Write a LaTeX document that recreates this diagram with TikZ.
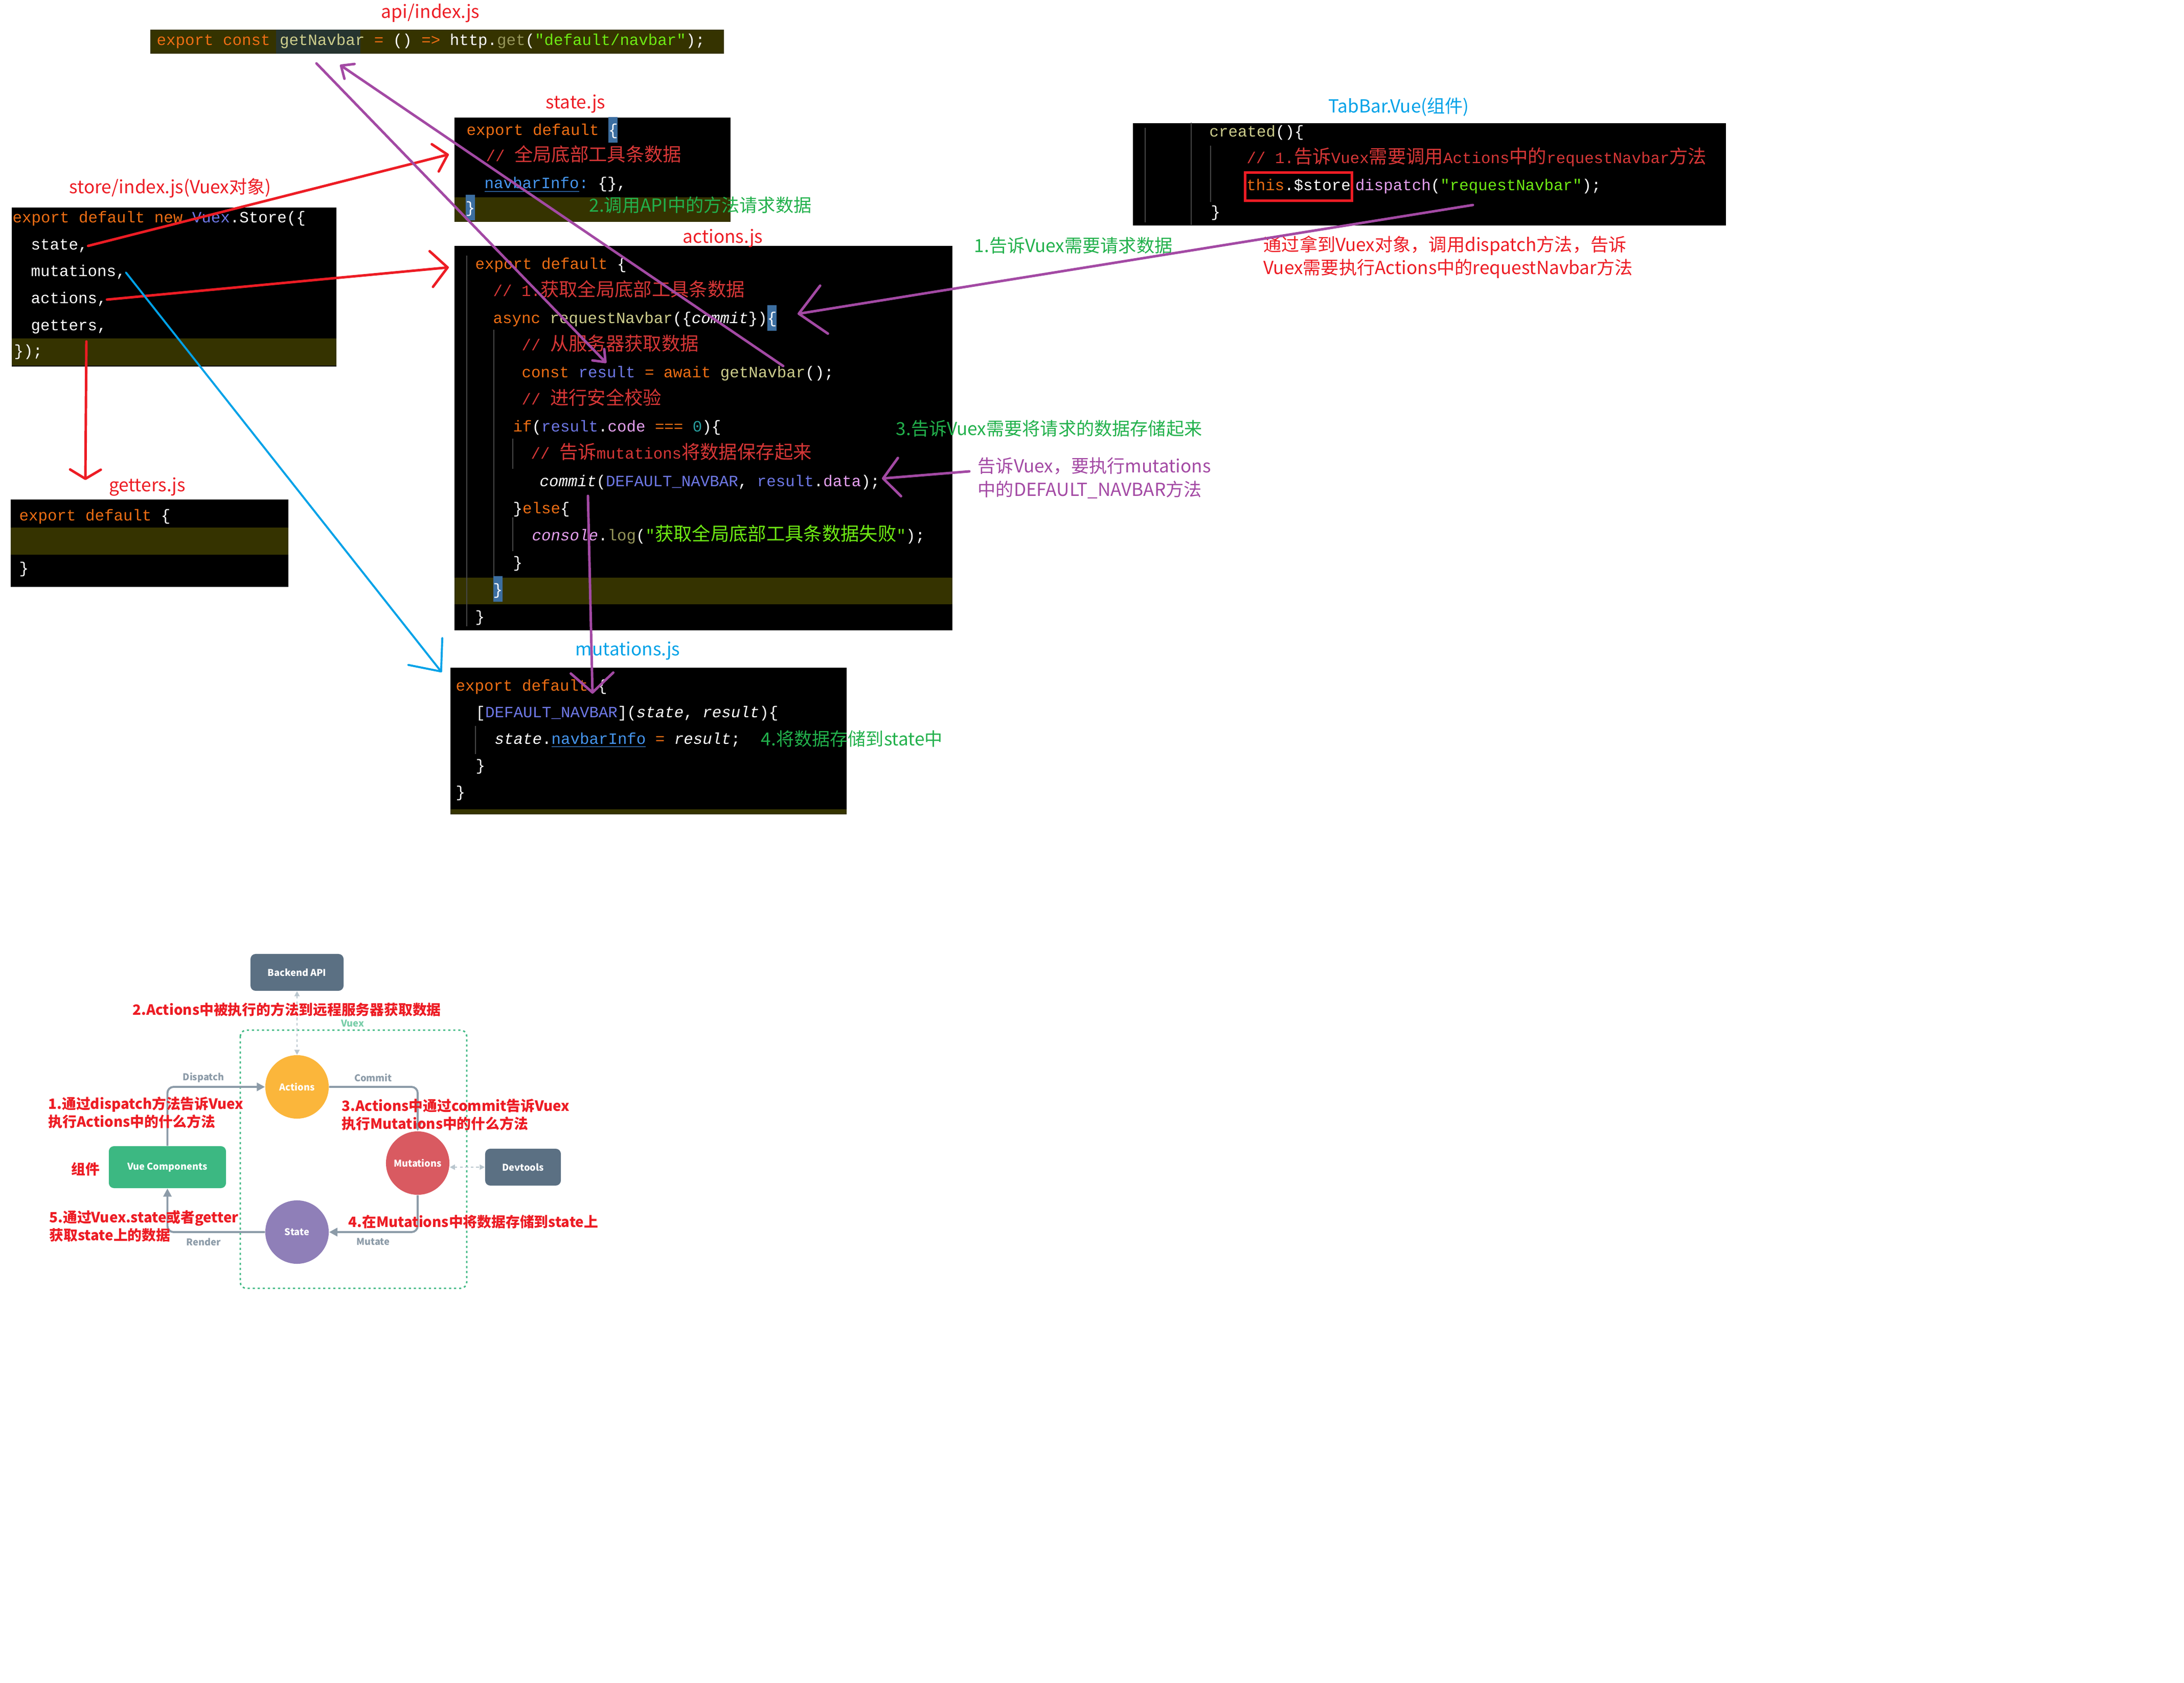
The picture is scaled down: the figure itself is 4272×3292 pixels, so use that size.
\documentclass[tikz,border=0pt]{standalone}
\usepackage{xcolor}
\usepackage{fontspec}
\setmainfont{Noto Sans CJK SC}
\setmonofont{Liberation Mono}
\newfontfamily\zhcode{Noto Sans CJK SC}[Scale=1.18]
\newcommand\zh[1]{{\zhcode #1}}
\newcommand\caretstrut{\rule[-0.14cm]{0pt}{0.5cm}}
\setlength{\fboxsep}{0pt}
\usetikzlibrary{positioning,arrows.meta}

\definecolor{kwOrange}{RGB}{238,110,20}
\definecolor{cmtRed}{RGB}{215,55,55}
\definecolor{strGreen}{RGB}{110,235,20}
\definecolor{fnKhaki}{RGB}{205,205,140}
\definecolor{getOlive}{RGB}{150,150,90}
\definecolor{propBlue}{RGB}{70,150,240}
\definecolor{varBlue}{RGB}{110,120,230}
\definecolor{pinkProp}{RGB}{230,160,240}
\definecolor{numTeal}{RGB}{40,160,160}
\definecolor{bandOlive}{RGB}{53,51,0}
\definecolor{getNavBg}{RGB}{38,52,48}
\definecolor{caretBlue}{RGB}{60,110,160}
\definecolor{guideGrey}{RGB}{70,70,70}
\definecolor{paintRed}{RGB}{237,28,36}
\definecolor{paintGreen}{RGB}{34,177,76}
\definecolor{paintPurple}{RGB}{163,73,164}
\definecolor{paintBlue}{RGB}{0,162,232}
\definecolor{vxGreen}{RGB}{60,184,130}
\definecolor{vxSlate}{RGB}{91,112,131}
\definecolor{vxOrange}{RGB}{251,182,59}
\definecolor{vxRed}{RGB}{217,90,97}
\definecolor{vxPurple}{RGB}{143,127,184}
\definecolor{vxGrey}{RGB}{140,155,168}
\definecolor{vxLight}{RGB}{185,198,206}

\begin{document}
\begin{tikzpicture}[
        x=0.01cm, y=-0.01cm,
        codebox/.style={rectangle, fill=black, inner sep=0, anchor=north west},
        band/.style={rectangle, fill=bandOlive, inner sep=0, anchor=north west},
        codeln/.style={anchor=west, inner sep=0, text height=0.22cm, text depth=0.06cm, text=white, font=\ttfamily\fontsize{8.76pt}{10pt}\selectfont},
        guide/.style={draw=guideGrey, line width=0.4pt},
        filename/.style={inner sep=0, font=\fontsize{10pt}{13pt}\selectfont},
        remark/.style={inner sep=0, anchor=west, align=left, font=\fontsize{10pt}{12.9pt}\selectfont},
        handdrawn/.style={line width=1.4pt, line cap=round, line join=round},
        vxbox/.style={rectangle, rounded corners=0.1cm, text=white, font=\bfseries\fontsize{5.2pt}{6pt}\selectfont},
        vxcircle/.style={circle, minimum size=1.24cm, inner sep=0, text=white, font=\bfseries\fontsize{5.2pt}{6pt}\selectfont},
        vxlabel/.style={inner sep=0, text=vxGrey, font=\bfseries\fontsize{5.2pt}{6pt}\selectfont},
        vxflow/.style={draw=vxGrey, line width=1.1pt, rounded corners=0.12cm, -{Triangle[length=0.16cm,width=0.16cm]}},
        vxdash/.style={draw=vxLight, line width=0.8pt, dash pattern=on 1.5pt off 1.5pt, {Triangle[length=0.1cm,width=0.1cm]}-{Triangle[length=0.1cm,width=0.1cm]}},
        vuexFrame/.style={draw=vxGreen, line width=0.8pt, dash pattern=on 1.2pt off 1.6pt, rounded corners=0.12cm},
        rednote/.style={inner sep=0, anchor=west, align=left, text=paintRed, font=\bfseries\fontsize{7.9pt}{9.95pt}\selectfont}
    ]
        \fill[white] (0,0) rectangle (4272,3292);
        \useasboundingbox (0,0) rectangle (4272,3292);

        % ========== API (top) ==========
        \node[band, minimum width=11.22cm, minimum height=0.47cm] (apiBar) at (293,57) {};
        \node[band, fill=getNavBg, minimum width=1.65cm, minimum height=0.47cm] (apiHl) at (539,57) {};
        \node[codeln] (apiCode) at (306,81) {\color{kwOrange}export const \color{fnKhaki}getNavbar \color{kwOrange}= \color{white}() \color{kwOrange}=> \color{white}http.\color{getOlive}get\color{white}(\color{strGreen}"default/navbar"\color{white});};
        \node[filename, text=paintRed] (apiTitle) at (842,26) {api/index.js};

        % ========== STORE / GETTERS (left) ==========
        \node[codebox, minimum width=6.35cm, minimum height=3.11cm] (storeBox) at (22,405) {};
        \node[band, minimum width=6.35cm, minimum height=0.53cm] (storeBand) at (22,661) {};
        \node[codeln] (storeL0) at (24,428) {\color{kwOrange}export default new \color{varBlue}Vuex\color{white}.Store(\{};
        \node[codeln] (storeL1) at (60,481) {state,};
        \node[codeln] (storeL2) at (60,533) {mutations,};
        \node[codeln] (storeL3) at (60,586) {actions,};
        \node[codeln] (storeL4) at (60,639) {getters,};
        \node[codeln] (storeL5) at (27,689) {\});};
        \node[filename, text=paintRed] (storeTitle) at (333,368) {store/index.js(Vuex对象)};

        \node[codebox, minimum width=5.43cm, minimum height=1.71cm] (gettersBox) at (20,976) {};
        \node[band, minimum width=5.43cm, minimum height=0.53cm] (gettersBand) at (20,1031) {};
        \node[codeln] (gettersL0) at (37,1010) {\color{kwOrange}export default \color{white}\{};
        \node[codeln] (gettersL2) at (37,1113) {\}};
        \node[filename, text=paintRed] (gettersTitle) at (288,952) {getters.js};

        % ========== STATE ==========
        \node[codebox, minimum width=5.40cm, minimum height=2.04cm] (stateBox) at (888,229) {};
        \node[band, minimum width=5.40cm, minimum height=0.48cm] (stateBand) at (888,385) {};
        \node[codeln] (stateL0) at (912,257) {\color{kwOrange}export default \colorbox{caretBlue}{\caretstrut\color{white}\{}};
        \node[codeln] (stateL1) at (950,308) {\color{cmtRed}// \zh{全局底部工具条数据}};
        \node[codeln] (stateL2) at (947,361) {\color{propBlue}\underline{navbarInfo}: \color{white}\{\},};
        \node[codeln] (stateL3) at (910,409) {\colorbox{caretBlue}{\caretstrut\color{white}\}}};
        \node[filename, text=paintRed] (stateTitle) at (1126,203) {state.js};

        % ========== ACTIONS ==========
        \node[codebox, minimum width=9.74cm, minimum height=7.52cm] (actionsBox) at (888,480) {};
        \node[band, minimum width=9.74cm, minimum height=0.52cm] (actionsBand) at (888,1129) {};
        \draw[guide] (913,500) -- (913,1225);
        \draw[guide] (966,645) -- (966,1130);
        \draw[guide] (1003,858) -- (1003,917);
        \draw[guide] (1003,1012) -- (1003,1078);
        \node[codeln] (actL0) at (929,519) {\color{kwOrange}export default \color{white}\{};
        \node[codeln] (actL1) at (964,572) {\color{cmtRed}// 1.\zh{获取全局底部工具条数据}};
        \node[codeln] (actL2) at (964,625) {\color{kwOrange}async \color{fnKhaki}requestNavbar\color{white}(\{{\itshape commit}\})\colorbox{caretBlue}{\caretstrut\color{white}\{}};
        \node[codeln] (actL3) at (1020,678) {\color{cmtRed}// \zh{从服务器获取数据}};
        \node[codeln] (actL4) at (1020,731) {\color{kwOrange}const \color{varBlue}result \color{kwOrange}= await \color{fnKhaki}getNavbar\color{white}();};
        \node[codeln] (actL5) at (1020,784) {\color{cmtRed}// \zh{进行安全校验}};
        \node[codeln] (actL6) at (1003,837) {\color{kwOrange}if\color{white}(\color{varBlue}result\color{white}.\color{pinkProp}code \color{kwOrange}=== \color{numTeal}0\color{white})\{};
        \node[codeln] (actL7) at (1038,890) {\color{cmtRed}// \zh{告诉}mutations\zh{将数据保存起来}};
        \node[codeln] (actL8) at (1055,943) {{\itshape commit}(\color{varBlue}DEFAULT\_NAVBAR\color{white}, \color{varBlue}result\color{white}.\color{pinkProp}data\color{white});};
        \node[codeln] (actL9) at (1003,996) {\}\color{kwOrange}else\color{white}\{};
        \node[codeln] (actL10) at (1040,1049) {{\itshape\color{pinkProp}console}.\color{getOlive}log\color{white}(\color{strGreen}"\zh{获取全局底部工具条数据失败}"\color{white});};
        \node[codeln] (actL11) at (1003,1102) {\}};
        \node[codeln] (actL12) at (964,1155) {\colorbox{caretBlue}{\caretstrut\color{white}\}}};
        \node[codeln] (actL13) at (929,1208) {\}};
        \node[filename, text=paintRed] (actionsTitle) at (1414,466) {actions.js};

        % ========== MUTATIONS ==========
        \node[codebox, minimum width=7.75cm, minimum height=2.87cm] (mutationsBox) at (880,1305) {};
        \node[band, minimum width=7.75cm, minimum height=0.1cm] (mutationsBand) at (880,1582) {};
        \draw[guide] (930,1420) -- (930,1475);
        \node[codeln] (mutL0) at (891,1343) {\color{kwOrange}export default \color{white}\{};
        \node[codeln] (mutL1) at (930,1395) {[\color{varBlue}DEFAULT\_NAVBAR\color{white}]({\itshape state}, {\itshape result})\{};
        \node[codeln] (mutL2) at (967,1447) {{\itshape state}.\color{propBlue}\underline{navbarInfo} \color{kwOrange}= \color{white}{\itshape result};};
        \node[codeln] (mutL3) at (930,1499) {\}};
        \node[codeln] (mutL4) at (891,1551) {\}};
        \node[filename, text=paintBlue] (mutationsTitle) at (1228,1273) {mutations.js};

        % ========== TABBAR (right) ==========
        \node[codebox, minimum width=11.6cm, minimum height=2.0cm] (tabBox) at (2215,240) {};
        \draw[guide] (2240,250) -- (2240,435);
        \draw[guide] (2330,240) -- (2330,440);
        \draw[guide] (2368,285) -- (2368,395);
        \node[codeln] (tabL0) at (2365,260) {\color{fnKhaki}created\color{white}()\{};
        \node[codeln] (tabL1) at (2438,312) {\color{cmtRed}// 1.\zh{告诉}Vuex\zh{需要调用}Actions\zh{中的}requestNavbar\zh{方法}};
        \node[codeln, draw=paintRed, line width=1.4pt, inner xsep=0.03cm, minimum height=0.55cm] (tabStore) at (2433,365) {\color{kwOrange}this\color{white}.\$store};
        \node[codeln, right=0.03cm of tabStore] (tabL2) {\color{pinkProp}dispatch\color{white}(\color{strGreen}"requestNavbar"\color{white});};
        \node[codeln] (tabL3) at (2368,417) {\}};
        \node[filename, text=paintBlue] (tabTitle) at (2736,209) {TabBar.Vue(组件)};

        % ========== NOTES ==========
        \node[remark, anchor=center, text=paintGreen] (stepTwo) at (1370,401) {2.调用API中的方法请求数据};
        \node[remark, text=paintGreen] (stepOne) at (1905,480) {1.告诉Vuex需要请求数据};
        \node[remark, text=paintRed] (dispatchNote) at (2471,503) {通过拿到Vuex对象，调用dispatch方法，告诉\\Vuex需要执行Actions中的requestNavbar方法};
        \node[remark, text=paintGreen] (stepThree) at (1752,838) {3.告诉Vuex需要将请求的数据存储起来};
        \node[remark, text=paintPurple] (commitNote) at (1912,935) {告诉Vuex，要执行mutations\\中的DEFAULT\_NAVBAR方法};
        \node[remark, text=paintGreen] (stepFour) at (1488,1445) {4.将数据存储到state中};

        % ========== HAND-DRAWN ARROWS ==========
        \coordinate (stateIn) at (878,302);
        \coordinate (actionsIn) at (878,523);
        \coordinate (gettersOut) at (169,668);
        \coordinate (gettersIn) at (167,939);
        \coordinate (mutationsIn) at (864,1315);
        \draw[handdrawn, paintRed, -{Straight Barb[length=0.25cm,width=0.55cm,round]}] (storeL1.east) -- (stateIn);
        \draw[handdrawn, paintRed, -{Straight Barb[length=0.32cm,width=0.7cm,round]}] (storeL3.east) -- (actionsIn);
        \draw[handdrawn, paintRed, -{Straight Barb[length=0.18cm,width=0.6cm,round]}] (gettersOut) -- (gettersIn);
        \draw[handdrawn, paintBlue, line width=1.1pt, -{Straight Barb[length=0.5cm,width=0.85cm,round]}] (storeL2.east) -- (mutationsIn);

        % purple: api <-> actions, tabbar -> actions, actions -> mutations
        \coordinate (callApi) at (619,124);
        \coordinate (resultIn) at (1186,710);
        \coordinate (getNavOut) at (1532,716);
        \coordinate (apiIn) at (665,127);
        \coordinate (dispatchOut) at (2881,401);
        \coordinate (requestIn) at (1560,614);
        \coordinate (commitNoteOut) at (1896,922);
        \coordinate (commitIn) at (1725,936);
        \coordinate (commitOut) at (1150,970);
        \coordinate (mutationsTop) at (1159,1357);
        \draw[handdrawn, paintPurple, -{Straight Barb[length=0.2cm,width=0.32cm,round]}] (callApi) -- (resultIn);
        \draw[handdrawn, paintPurple, -{Straight Barb[length=0.2cm,width=0.35cm,round]}] (getNavOut) -- (apiIn);
        \draw[handdrawn, paintPurple, -{Straight Barb[length=0.5cm,width=0.95cm,round]}] (dispatchOut) -- (requestIn);
        \draw[handdrawn, paintPurple, -{Straight Barb[length=0.32cm,width=0.75cm,round]}] (commitNoteOut) -- (commitIn);
        \draw[handdrawn, paintPurple, -{Straight Barb[length=0.38cm,width=0.83cm,round]}] (commitOut) -- (mutationsTop);

        % ========== VUEX FLOW (bottom) ==========
        \draw[vuexFrame] (470,2015) rectangle (913,2520);
        \node[vxlabel, text=vxGreen!70] (vuexTitle) at (690,2002) {Vuex};
        \node[vxbox, fill=vxSlate, minimum width=1.82cm, minimum height=0.72cm] (backend) at (581,1902) {Backend API};
        \node[vxcircle, fill=vxOrange] (actionsC) at (581,2126) {Actions};
        \node[vxcircle, fill=vxRed] (mutationsC) at (817,2275) {Mutations};
        \node[vxcircle, fill=vxPurple] (stateC) at (581,2410) {State};
        \node[vxbox, fill=vxGreen, minimum width=2.29cm, minimum height=0.82cm] (vueComp) at (327.5,2283) {Vue Components};
        \node[vxbox, fill=vxSlate, minimum width=1.48cm, minimum height=0.72cm] (devtools) at (1023,2283) {Devtools};

        \draw[vxflow] (vueComp.north) |- (actionsC.west);
        \draw[vxflow] (actionsC.east) -| (mutationsC.north);
        \draw[vxflow] (mutationsC.south) |- (stateC.east);
        \draw[vxflow] (stateC.west) -| (vueComp.south);
        \draw[vxdash] (backend.south) -- (actionsC.north);
        \draw[vxdash] (devtools.west -| mutationsC.east) -- (devtools.west);

        \node[vxlabel] (dispatchLbl) at (398,2108) {Dispatch};
        \node[vxlabel] (commitLbl) at (730,2108) {Commit};
        \node[vxlabel] (renderLbl) at (398,2429) {Render};
        \node[vxlabel] (mutateLbl) at (730,2429) {Mutate};

        \node[rednote, anchor=center] (noteTwo) at (561,1975) {2.Actions中被执行的方法到远程服务器获取数据};
        \node[rednote] (noteOne) at (94,2176) {1.通过dispatch方法告诉Vuex\\执行Actions中的什么方法};
        \node[rednote, anchor=center] (noteComp) at (167,2287) {组件};
        \node[rednote] (noteThree) at (668,2181) {3.Actions中通过commit告诉Vuex\\执行Mutations中的什么方法};
        \node[rednote] (noteFour) at (681,2390) {4.在Mutations中将数据存储到state上};
        \node[rednote] (noteFive) at (96,2398) {5.通过Vuex.state或者getter\\获取state上的数据};

    \end{tikzpicture}
\end{document}
